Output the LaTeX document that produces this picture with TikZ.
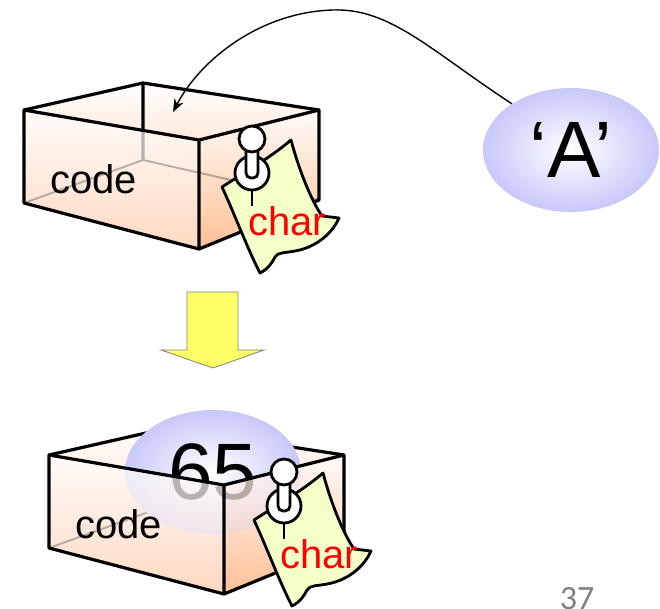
\documentclass[tikz,border=0pt]{standalone}
\usepackage{fontspec}
\setmainfont{Liberation Sans}
\newfontfamily\slidefont{Carlito}
\usetikzlibrary{shapes.geometric, arrows.meta}

\definecolor{boxpeach}{RGB}{255,192,150}
\definecolor{boxblush}{RGB}{255,226,210}
\definecolor{memoyellow}{RGB}{245,255,200}
\definecolor{bubblelav}{RGB}{200,200,250}
\definecolor{hintyellow}{RGB}{255,255,102}

\tikzset{
  boxback/.pic={
    % inside of the box, seen through the walls
    \shade[top color=white, bottom color=boxpeach]
      (24,110) -- (143,83) -- (319,110) -- (319,200) -- (199,249) -- (24,203) -- cycle;
    \draw[line width=2pt] (24,203) -- (143,160) -- (319,200);
    \draw[rim] (24,110) -- (143,83) -- (319,110) (143,83) -- (143,160);
  },
  boxfront/.pic={
    \shade[top color=white, bottom color=boxblush, fill opacity=.72]
      (24,110) -- (199,140) -- (199,249) -- (24,203) -- cycle;
    \shade[top color=white, bottom color=boxpeach, fill opacity=.72]
      (199,140) -- (319,110) -- (319,200) -- (199,249) -- cycle;
    \draw[rim] (24,110) -- (199,140) -- (319,110) -- (319,200) -- (199,249) -- (24,203) -- cycle
      (199,140) -- (199,249);
    \node[tag, anchor=base west] (word) at (50,193) {code};
  },
  memo/.pic={
    \filldraw[fill=memoyellow, line width=2.8pt, line join=round]
      (222,187) .. controls (245,172) and (270,158) .. (291,140)
      .. controls (299,170) and (311,200) .. (322,216) -- (339,218)
      .. controls (331,236) and (313,248) .. (295,251)
      .. controls (285,253) and (278,252) .. (275,257)
      .. controls (272,263) and (268,269) .. (260,273)
      .. controls (248,250) and (235,215) .. (222,187) -- cycle;
    \draw[line width=2.5pt] (252,190) -- (252,206);
    \filldraw[fill=white, line width=2.8pt] (252,173) circle (17);
    \filldraw[fill=white, line width=2.8pt, rounded corners=5pt] (246,145) rectangle (258,178);
    \filldraw[fill=white, line width=2.8pt] (252,139) circle (13);
    \node[tag, text=red, anchor=base west] (word) at (248,235) {char};
  }
}

\begin{document}
\begin{tikzpicture}[x=1pt, y=-1pt,
    rim/.style={line width=3.2pt, line join=round},
    tag/.style={inner sep=0pt, font=\fontsize{40}{48}\selectfont},
    bubble/.style={ellipse, minimum width=176pt, minimum height=124pt, shade,
      inner color=white, outer color=bubblelav, font=\fontsize{80}{96}\selectfont},
    hint/.style={fill=hintyellow, draw=gray, line width=.8pt},
    pointer/.style={-{Stealth[length=13pt,width=10pt]}, line width=1.4pt}]
  \useasboundingbox (0,0) rectangle (660,608);

  % before: the empty box
  \pic (upper) at (0,0) {boxback};
  \pic (upper) at (0,0) {boxfront};
  \pic (uppermemo) at (0,0) {memo};
  \node[bubble] (quoteA) at (571,150) {‘A’};
  \coordinate (slot) at (173,112);
  \draw[pointer] (quoteA.142) .. controls (430,50) and (390,8) .. (333,10)
    .. controls (260,12) and (200,60) .. (slot);

  \filldraw[hint] (187,292) -- (238,292) -- (238,350) -- (264,350) -- (213,368)
    -- (161,350) -- (187,350) -- cycle;

  % after: 65 sits in the box
  \pic (lower) at (25,345) {boxback};
  \node[bubble] (code65) at (213,472) {65};
  \pic (lower) at (25,345) {boxfront};
  \pic (lowermemo) at (32,333) {memo};

  \node[font=\slidefont\fontsize{34}{40}\selectfont, text=gray, anchor=base] (pagenum) at (577,609) {37};
\end{tikzpicture}
\end{document}
